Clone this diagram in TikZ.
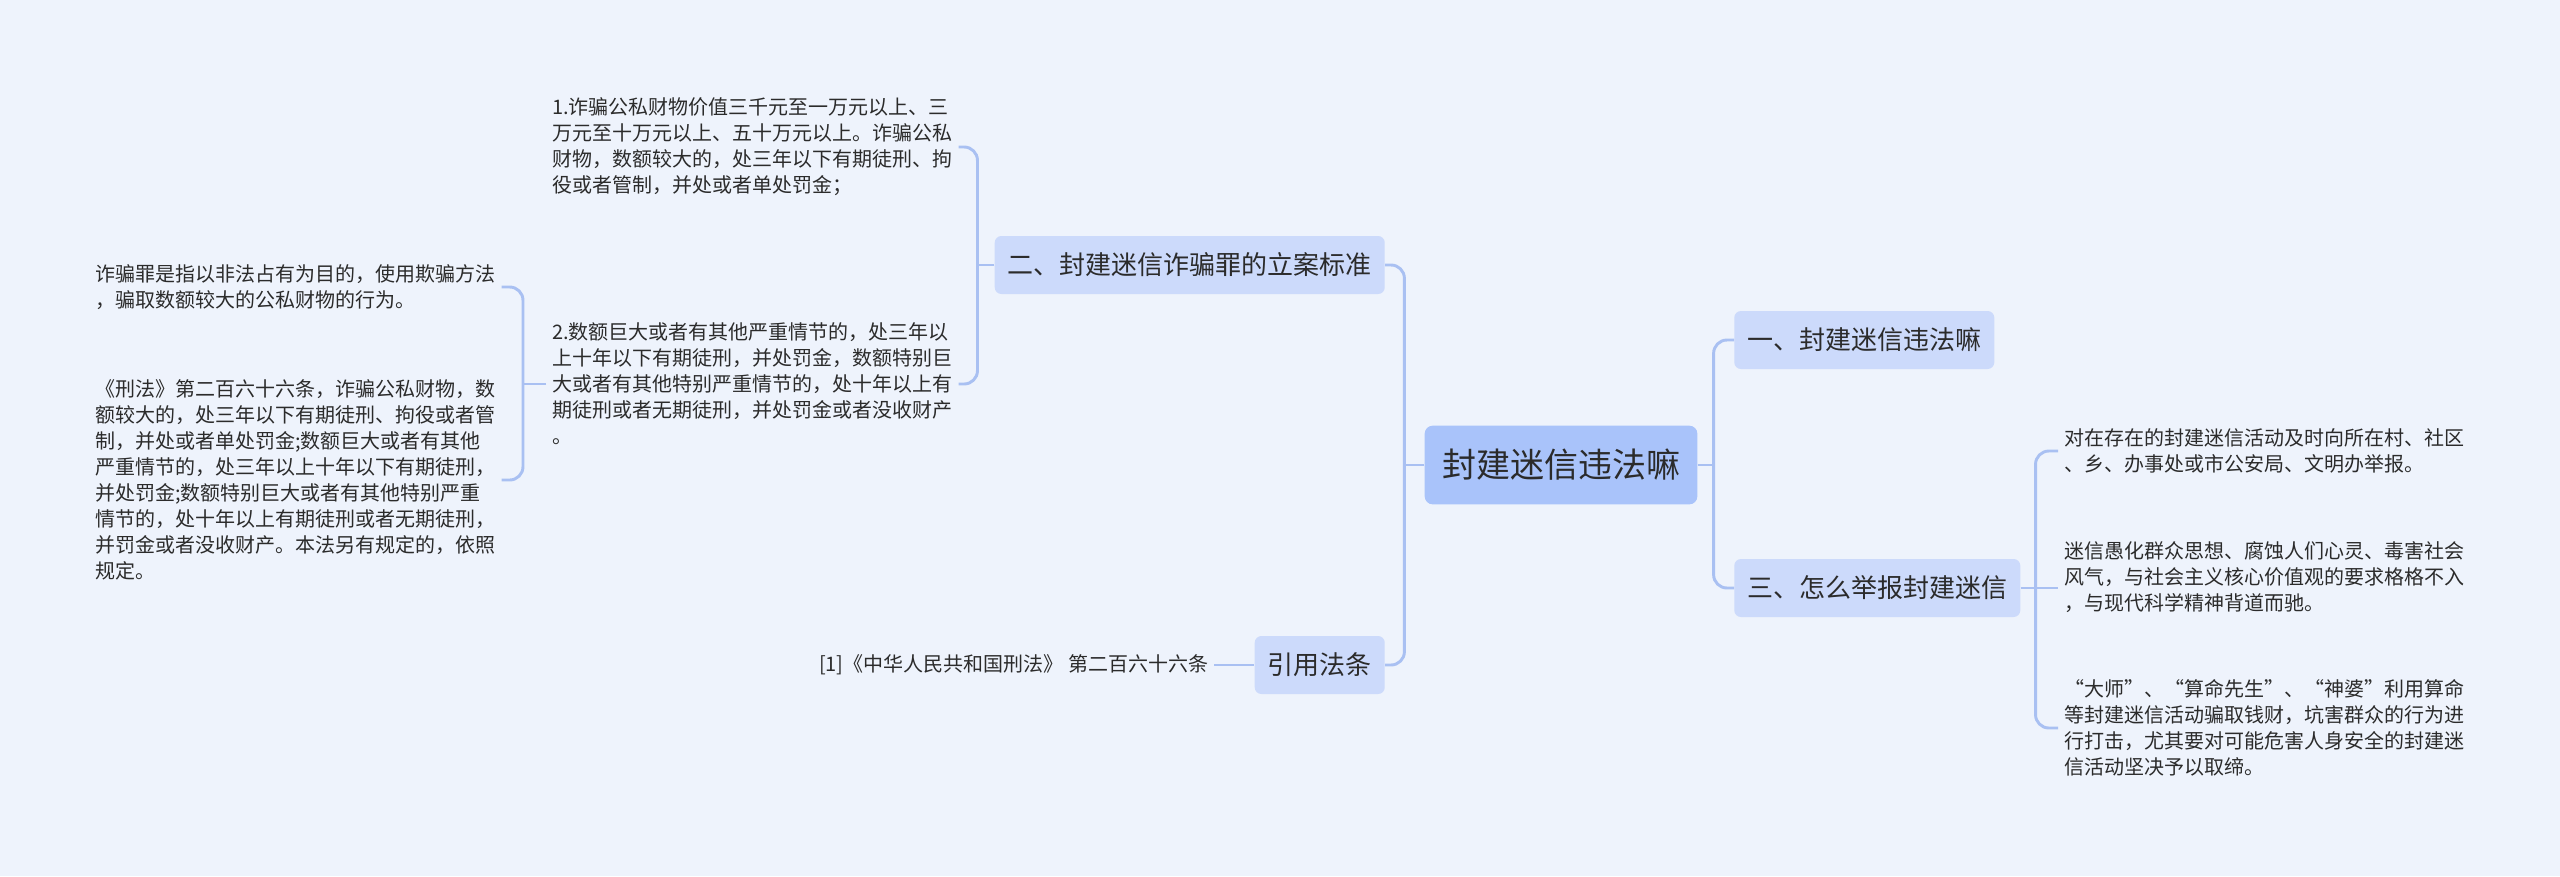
\documentclass[tikz,border=0pt]{standalone}
\usepackage{fontspec}
\setmainfont{Noto Sans CJK SC}
\usepackage{xcolor}
\usepackage{tikz}
\usetikzlibrary{positioning, calc}
\definecolor{mapink}{HTML}{2B2B2B}
\definecolor{mapbg}{HTML}{EEF3FC}
\definecolor{rootfill}{HTML}{A9C3FA}
\definecolor{topicfill}{HTML}{CCDAFB}
\definecolor{linkblue}{HTML}{A9C0F2}
\tikzset{
  rootbox/.style={fill=rootfill, rounded corners=6pt, align=center, inner xsep=13pt,
    minimum height=59pt, font=\fontsize{25.5}{30}\selectfont, text=mapink},
  topicbox/.style={fill=topicfill, rounded corners=5pt, align=center, inner xsep=9.75pt,
    minimum height=43.5pt, font=\fontsize{19.5}{24}\selectfont, text=mapink},
  leaf/.style={align=left, inner xsep=4.5pt, inner ysep=0pt,
    font=\fontsize{15}{19.5}\selectfont, text=mapink},
  link/.style={draw=linkblue, line width=2.2pt, rounded corners=10pt}
}
\begin{document}
\begin{tikzpicture}[x=0.75pt, y=-0.75pt]
\fill[mapbg] (0,0) rectangle (2560,876);
% centre and main topics
\node[rootbox] (root) at (1561,465) {封建迷信违法嘛};
\node[topicbox, anchor=west] (yi) at (1734,340) {一、封建迷信违法嘛};
\node[topicbox, anchor=west] (san) at (1734,588) {三、怎么举报封建迷信};
\node[topicbox, anchor=east] (er) at (1385,265) {二、封建迷信诈骗罪的立案标准};
\node[topicbox, anchor=east] (yin) at (1385,665) {引用法条};
% texts on the right
\node[leaf, anchor=west] (r1) at (2058,451) {对在存在的封建迷信活动及时向所在村、社区\\、乡、办事处或市公安局、文明办举报。};
\node[leaf, anchor=west] (r2) at (2058,577) {迷信愚化群众思想、腐蚀人们心灵、毒害社会\\风气，与社会主义核心价值观的要求格格不入\\，与现代科学精神背道而驰。};
\node[leaf, anchor=west] (r3) at (2058,728) {“大师”、“算命先生”、“神婆”利用算命\\等封建迷信活动骗取钱财，坑害群众的行为进\\行打击，尤其要对可能危害人身安全的封建迷\\信活动坚决予以取缔。};
% texts on the left
\node[leaf, anchor=west] (c1) at (546,147) {1.诈骗公私财物价值三千元至一万元以上、三\\万元至十万元以上、五十万元以上。诈骗公私\\财物，数额较大的，处三年以下有期徒刑、拘\\役或者管制，并处或者单处罚金；};
\node[leaf, anchor=west] (c2) at (546,384) {2.数额巨大或者有其他严重情节的，处三年以\\上十年以下有期徒刑，并处罚金，数额特别巨\\大或者有其他特别严重情节的，处十年以上有\\期徒刑或者无期徒刑，并处罚金或者没收财产\\。};
\node[leaf, anchor=west] (d1) at (89,287) {诈骗罪是指以非法占有为目的，使用欺骗方法\\，骗取数额较大的公私财物的行为。};
\node[leaf, anchor=west] (d2) at (89,480) {《刑法》第二百六十六条，诈骗公私财物，数\\额较大的，处三年以下有期徒刑、拘役或者管\\制，并处或者单处罚金;数额巨大或者有其他\\严重情节的，处三年以上十年以下有期徒刑，\\并处罚金;数额特别巨大或者有其他特别严重\\情节的，处十年以上有期徒刑或者无期徒刑，\\并罚金或者没收财产。本法另有规定的，依照\\规定。};
\node[leaf, left=30pt of yin] (ref) {[1]《中华人民共和国刑法》 第二百六十六条};
% junctions
\coordinate (jL) at ($(root.west)+(-20,0)$);
\coordinate (jR) at ($(root.east)+(16,0)$);
\coordinate (jB) at ($(er.west)+(-17,0)$);
\coordinate (jC) at ($(c2.west)+(-23,0)$);
\coordinate (jD) at ($(san.east)+(15,0)$);
% connectors
\draw[link] (root.west) -- (jL);
\draw[link] (er.east) -| (jL) |- (yin.east);
\draw[link] (root.east) -- (jR);
\draw[link] (yi.west) -| (jR) |- (san.west);
\draw[link] (c1.east) -| (jB) |- (c2.east);
\draw[link] (er.west) -- (jB);
\draw[link] (d1.east) -| (jC) |- (d2.east);
\draw[link] (c2.west) -- (jC);
\draw[link] (r1.west) -| (jD) |- (r3.west);
\draw[link] (san.east) -- (san.east -| r2.west);
\draw[link] (ref.east) -- (yin.west);
\end{tikzpicture}
\end{document}
